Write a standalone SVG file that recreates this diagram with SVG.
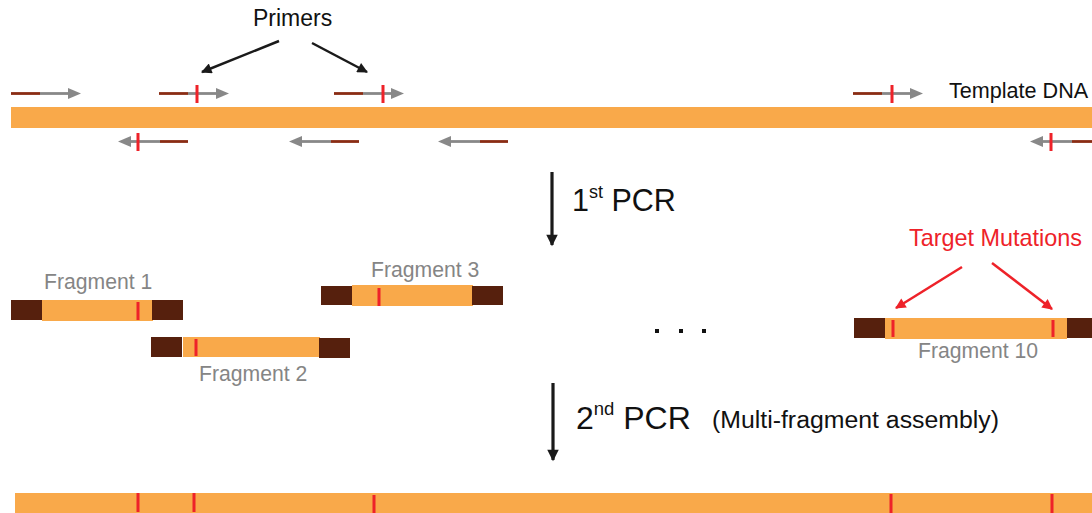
<svg xmlns="http://www.w3.org/2000/svg" xmlns:xlink="http://www.w3.org/1999/xlink" width="1092" height="513" viewBox="0 0 1092 513">
  <style>
    .dna { fill: #F9A94A; }
    .end { fill: #56200D; }
    .mut { fill: #EE2229; }
    .lbl { font-family: "Liberation Sans", Arial, sans-serif; fill: #111; }
    .frag { font-family: "Liberation Sans", Arial, sans-serif; fill: #858585; font-size: 21.2px; }
    .red { font-family: "Liberation Sans", Arial, sans-serif; fill: #EE2229; }
    .blk { stroke: #1a1a1a; stroke-width: 2.5; fill: none; }
    .redln { stroke: #EE2229; stroke-width: 2.5; fill: none; }
    .step { stroke: #1a1a1a; stroke-width: 3.2; fill: none; }
  </style>
  <defs>
    <!-- forward primer: brown tail, grey body, grey head pointing right -->
    <g id="fwd">
      <line x1="0" y1="0" x2="29" y2="0" stroke="#8A2C13" stroke-width="2.8"/>
      <line x1="29" y1="0" x2="59" y2="0" stroke="#888888" stroke-width="2.8"/>
      <polygon points="57,-5.5 70,0 57,5.5" fill="#888888"/>
    </g>
    <!-- reverse primer: head pointing left -->
    <g id="rev">
      <polygon points="0,0 13,-5.5 13,5.5" fill="#888888"/>
      <line x1="11" y1="0" x2="42" y2="0" stroke="#888888" stroke-width="2.8"/>
      <line x1="42" y1="0" x2="70" y2="0" stroke="#8A2C13" stroke-width="2.8"/>
    </g>
    <marker id="ahBlack" viewBox="0 0 10 10" refX="9" refY="5" markerWidth="5.5" markerHeight="4.2" markerUnits="strokeWidth" orient="auto">
      <path d="M0,0 L10,5 L0,10 z" fill="#1a1a1a"/>
    </marker>
    <marker id="ahRed" viewBox="0 0 10 10" refX="9" refY="5" markerWidth="5.5" markerHeight="4.2" markerUnits="strokeWidth" orient="auto">
      <path d="M0,0 L10,5 L0,10 z" fill="#EE2229"/>
    </marker>
    <marker id="ahStep" viewBox="0 0 10 10" refX="9" refY="5" markerWidth="5" markerHeight="3.6" markerUnits="strokeWidth" orient="auto">
      <path d="M0,0 L10,5 L0,10 z" fill="#1a1a1a"/>
    </marker>
  </defs>

  <!-- template strand with primers -->
  <g id="template">
    <rect class="dna" x="11" y="107" width="1081" height="21"/>
    <text class="lbl" x="949" y="98" font-size="21.6">Template DNA</text>
  </g>

  <g id="primers-forward">
    <use xlink:href="#fwd" x="11" y="93.5"/>
    <use xlink:href="#fwd" x="159" y="93.5"/>
    <rect class="mut" x="195.5" y="85" width="3" height="18"/>
    <use xlink:href="#fwd" x="334" y="93.5"/>
    <rect class="mut" x="381.5" y="85" width="3" height="18"/>
    <use xlink:href="#fwd" x="853" y="93.5"/>
    <rect class="mut" x="890.5" y="85" width="3" height="18"/>
  </g>

  <g id="primers-reverse">
    <use xlink:href="#rev" x="118" y="141.5"/>
    <rect class="mut" x="136.5" y="133" width="3" height="18"/>
    <use xlink:href="#rev" x="289" y="141.5"/>
    <use xlink:href="#rev" x="438" y="141.5"/>
    <use xlink:href="#rev" x="1030" y="141.5"/>
    <rect class="mut" x="1049.5" y="133" width="3" height="18"/>
  </g>

  <g id="primers-label">
    <text class="lbl" x="253" y="26" font-size="23">Primers</text>
  </g>

  <!-- PCR steps -->
  <g id="step1">
    <text class="lbl" x="572" y="211" font-size="30.5">1<tspan font-size="18" dy="-13">st</tspan><tspan dy="13"> PCR</tspan></text>
  </g>
  <g id="step2">
    <text class="lbl" x="576" y="429" font-size="32">2<tspan font-size="18.5" dy="-14">nd</tspan><tspan dy="14"> PCR</tspan></text>
    <text class="lbl" x="712" y="428" font-size="23.5" textLength="287" lengthAdjust="spacingAndGlyphs">(Multi-fragment assembly)</text>
  </g>

  <!-- fragments -->
  <g id="fragment1">
    <rect class="dna" x="42" y="300" width="111" height="21"/>
    <rect class="end" x="11" y="300" width="31" height="20"/>
    <rect class="end" x="152" y="300" width="31" height="20"/>
    <rect class="mut" x="136.5" y="302" width="3" height="18"/>
    <text class="frag" x="44" y="289">Fragment 1</text>
  </g>

  <g id="fragment2">
    <rect class="end" x="151" y="337" width="31" height="20"/>
    <rect class="dna" x="183" y="337" width="137" height="20"/>
    <rect class="end" x="319" y="338" width="31" height="20"/>
    <rect class="mut" x="194.5" y="339" width="3" height="17"/>
    <text class="frag" x="199" y="381">Fragment 2</text>
  </g>

  <g id="fragment3">
    <rect class="dna" x="352" y="285" width="121" height="21"/>
    <rect class="end" x="321" y="286" width="31" height="19"/>
    <rect class="end" x="472" y="286" width="31" height="19"/>
    <rect class="mut" x="377.5" y="288" width="3" height="18"/>
    <text class="frag" x="371" y="277">Fragment 3</text>
  </g>

  <g id="ellipsis" fill="#111">
    <rect x="655" y="329" width="4" height="4"/>
    <rect x="679" y="329" width="4" height="4"/>
    <rect x="702" y="329" width="4" height="4"/>
  </g>

  <g id="fragment10">
    <rect class="dna" x="885" y="318" width="182" height="21"/>
    <rect class="end" x="854" y="318" width="31" height="20"/>
    <rect class="end" x="1067" y="318" width="25" height="20"/>
    <rect class="mut" x="891.5" y="320" width="3" height="17"/>
    <rect class="mut" x="1051.5" y="320" width="3" height="17"/>
    <text class="frag" x="918" y="358">Fragment 10</text>
  </g>

  <g id="mutations-label">
    <text class="red" x="909" y="246" font-size="23.4">Target Mutations</text>
  </g>

  <!-- assembled product -->
  <g id="product">
    <rect class="dna" x="15" y="493" width="1077" height="20"/>
    <rect class="mut" x="136.5" y="493" width="3" height="19"/>
    <rect class="mut" x="192.5" y="493" width="3" height="19"/>
    <rect class="mut" x="372.5" y="495" width="3" height="18"/>
    <rect class="mut" x="889.5" y="494" width="3" height="19"/>
    <rect class="mut" x="1050.5" y="494" width="3" height="19"/>
  </g>

  <!-- connectors -->
  <g id="connectors">
    <line class="blk" x1="279" y1="41" x2="202" y2="72" marker-end="url(#ahBlack)"/>
    <line class="blk" x1="312" y1="43" x2="367" y2="72" marker-end="url(#ahBlack)"/>
    <line class="step" x1="552" y1="172" x2="552" y2="245" marker-end="url(#ahStep)"/>
    <line class="step" x1="553" y1="383" x2="553" y2="460" marker-end="url(#ahStep)"/>
    <line class="redln" x1="962" y1="267" x2="896" y2="308" marker-end="url(#ahRed)"/>
    <line class="redln" x1="992" y1="263" x2="1052" y2="309" marker-end="url(#ahRed)"/>
  </g>
</svg>
